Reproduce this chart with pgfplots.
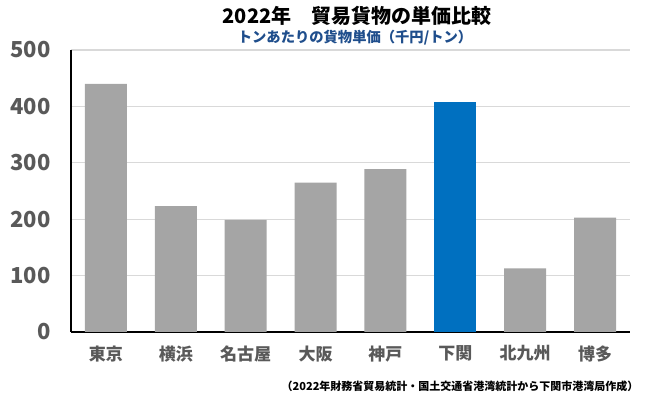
\documentclass[border=0pt]{standalone}
\usepackage{fontspec}
\setmainfont{Noto Sans CJK JP}
\usepackage{pgfplots}
\pgfplotsset{compat=1.18}
\definecolor{bargray}{HTML}{A5A5A5}
\definecolor{barblue}{HTML}{0070C0}
\definecolor{ticktext}{HTML}{595959}
\definecolor{gridc}{HTML}{D9D9D9}
\definecolor{subblue}{HTML}{1F4E8C}
\begin{document}
\begin{tikzpicture}[x=1pt,y=1pt]
\useasboundingbox (0,0) rectangle (650,401);
\begin{axis}[
  at={(71pt,69pt)}, anchor=south west,
  scale only axis, width=559pt, height=282pt,
  xmin=-0.5, xmax=7.5, ymin=0, ymax=500,
  ytick={0,100,200,300,400,500},
  xtick={0,1,2,3,4,5,6,7},
  xticklabels={東京,横浜,名古屋,大阪,神戸,下関,北九州,博多},
  axis x line*=bottom, axis y line*=left,
  axis line style={black, line width=1.5pt},
  x axis line style={-}, y axis line style={-},
  major tick length=0pt,
  ymajorgrids, grid style={gridc, line width=1.2pt},
  yticklabel style={font=\fontsize{22}{24}\selectfont\bfseries, text=ticktext, xshift=-17pt},
  xticklabel style={font=\fontsize{17}{19}\selectfont\bfseries, text=ticktext, yshift=-10pt},
  /pgf/number format/assume math mode=true,
  ybar, bar width=42pt,
  clip=false,
]
\addplot[fill=bargray, draw=none, bar shift=0pt] coordinates {(0,440) (1,223) (2,199) (3,265) (4,289) (6,113) (7,203)};
\addplot[fill=barblue, draw=none, bar shift=0pt] coordinates {(5,407)};
\end{axis}
\node[font=\fontsize{20}{22}\selectfont\bfseries, anchor=center] at (357,385) {2022年\hspace{1em}貿易貨物の単価比較};
\node[font=\fontsize{14.3}{16}\selectfont\bfseries, text=subblue, anchor=center] at (355,363) {トンあたりの貨物単価（千円/トン）};
\node[font=\fontsize{11}{13}\selectfont\bfseries, anchor=east] at (642,15) {（2022年財務省貿易統計・国土交通省港湾統計から下関市港湾局作成）};
\end{tikzpicture}
\end{document}
